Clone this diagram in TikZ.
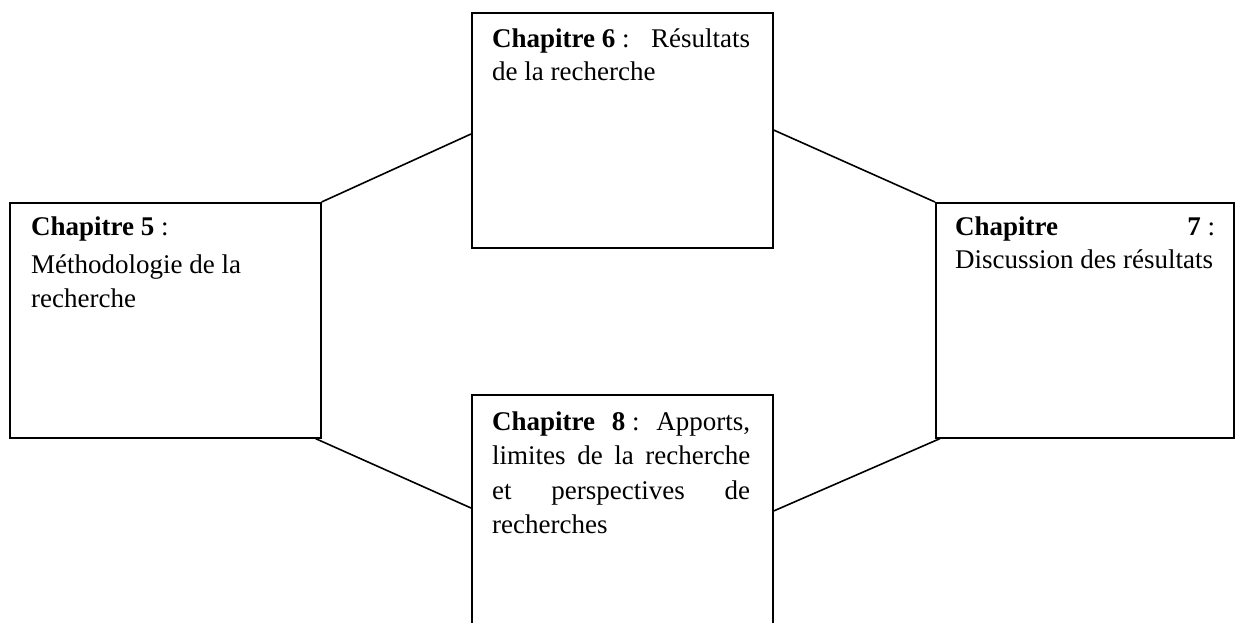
\documentclass[tikz,border=0pt]{standalone}
\usepackage{fontspec}
\setmainfont{Liberation Serif}
\usetikzlibrary{calc}

\tikzset{
  chapbox/.style={draw, line width=1.6pt, inner sep=0pt, anchor=north west},
  chaptext/.style={inner sep=0pt, anchor=base west, font=\fontsize{27}{33}\selectfont},
  link/.style={line width=1.6pt}
}
% one full-width justified line
\newcommand{\fullline}[1]{\makebox[\linewidth][l]{#1}}

\begin{document}
\begin{tikzpicture}[x=1pt, y=-1pt]
  \useasboundingbox (0,0) rectangle (1236,622);
  \clip (0,0) rectangle (1236,622);

  % chapter frames
  \node[chapbox, minimum width=301pt, minimum height=235pt] (b6) at (471,12) {};
  \node[chapbox, minimum width=311pt, minimum height=235pt] (b5) at (9,202) {};
  \node[chapbox, minimum width=298pt, minimum height=235pt] (b7) at (935,202) {};
  \node[chapbox, minimum width=301pt, minimum height=260pt] (b8) at (471,394) {};

  % chapter titles
  \node[chaptext] (t6) at ($(b6.north west)+(21,35)$)
    {\parbox[t]{258pt}{\fullline{\textbf{Chapitre 6} :\hfill Résultats}\\
     de la recherche}};
  \node[chaptext] (t5) at ($(b5.north west)+(22,33)$)
    {\parbox[t]{270pt}{\textbf{Chapitre 5} :\\[5pt]
     Méthodologie de la\\[1pt]
     recherche}};
  \node[chaptext] (t7) at ($(b7.north west)+(20,33)$)
    {\parbox[t]{260pt}{\fullline{\textbf{Chapitre}\hfill\textbf{7} :}\\
     Discussion des résultats}};
  \node[chaptext] (t8) at ($(b8.north west)+(21,36)$)
    {\parbox[t]{258pt}{\fullline{\textbf{Chapitre}\hfill\textbf{8} :\hfill Apports,}\\[1.5pt]
     \makebox[\linewidth][s]{limites de la recherche}\\[1.5pt]
     \makebox[\linewidth][s]{et perspectives de}\\[1.5pt]
     recherches}};

  % connectors between the chapters
  \coordinate (c6w) at ($(b6.north west)+(0,122)$);
  \coordinate (c6e) at ($(b6.north east)+(0,118)$);
  \coordinate (c8w) at ($(b8.north west)+(0,114)$);
  \coordinate (c8e) at ($(b8.north east)+(0,117)$);
  \coordinate (c5s) at ($(b5.south east)+(-6,0)$);
  \coordinate (c7s) at ($(b7.south west)+(5,0)$);
  \draw[link] (b5.north east) -- (c6w);
  \draw[link] (c6e) -- (b7.north west);
  \draw[link] (c5s) -- (c8w);
  \draw[link] (c8e) -- (c7s);
\end{tikzpicture}
\end{document}
